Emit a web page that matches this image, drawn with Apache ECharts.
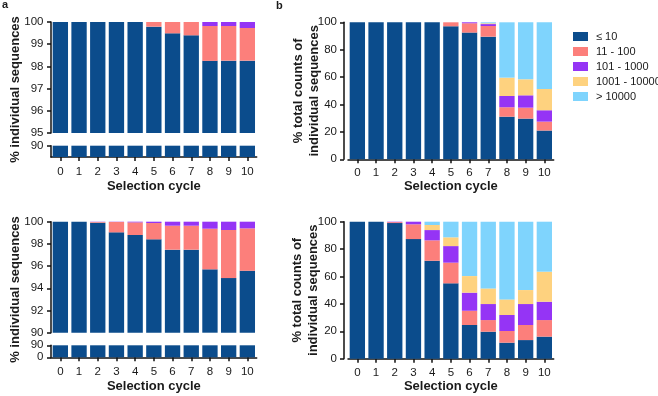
<!DOCTYPE html>
<html>
<head>
<meta charset="utf-8">
<script src="https://cdn.jsdelivr.net/npm/echarts@6/dist/echarts.min.js"></script>
<style>
  html, body { margin: 0; padding: 0; background: #ffffff; }
  #chart { width: 658px; height: 396px; }
</style>
</head>
<body>
<div id="chart"></div>
<script>
const cycles = ['0', '1', '2', '3', '4', '5', '6', '7', '8', '9', '10']
const bins = ['≤ 10', '11 - 100', '101 - 1000', '1001 - 10000', '> 10000']

// panel a, top: % individual sequences
const aTopLe10 = [100, 100, 100, 100, 100, 99.79, 99.49, 99.4, 98.25, 98.26, 98.26]
const aTop11to100 = [0, 0, 0, 0, 0, 0.21, 0.51, 0.6, 1.57, 1.56, 1.47]
const aTop101to1000 = [0, 0, 0, 0, 0, 0, 0, 0, 0.18, 0.18, 0.27]

// panel a, bottom
const aBotLe10 = [100, 100, 99.91, 99.04, 98.8, 98.41, 97.48, 97.48, 95.71, 94.92, 95.58]
const aBot11to100 = [0, 0, 0.07, 0.94, 1.14, 1.47, 2.16, 2.16, 3.66, 4.33, 3.82]
const aBot101to1000 = [0, 0, 0.02, 0.02, 0.06, 0.12, 0.36, 0.36, 0.63, 0.75, 0.6]

// panel b, top: % total counts of individual sequences
const bTopLe10 = [100, 100, 100, 100, 100, 97.1, 92.5, 89.5, 31.1, 29.7, 21.0]
const bTop11to100 = [0, 0, 0, 0, 0, 2.9, 6.8, 7.8, 6.9, 8.0, 6.5]
const bTop101to1000 = [0, 0, 0, 0, 0, 0, 0.7, 1.4, 8.2, 9.0, 8.3]
const bTop1001to10000 = [0, 0, 0, 0, 0, 0, 0, 0.6, 13.4, 11.7, 15.5]
const bTopGt10000 = [0, 0, 0, 0, 0, 0, 0, 0.7, 40.4, 41.6, 48.7]

// panel b, bottom
const bBotLe10 = [100, 100, 99.0, 87.3, 71.5, 55.0, 24.6, 19.7, 11.7, 13.6, 16.1]
const bBot11to100 = [0, 0, 0.7, 10.8, 14.9, 15.1, 10.4, 8.5, 8.5, 11.0, 12.1]
const bBot101to1000 = [0, 0, 0.3, 1.9, 7.5, 12.1, 13.2, 11.7, 11.7, 15.3, 13.4]
const bBot1001to10000 = [0, 0, 0, 0, 3.7, 6.4, 12.1, 11.4, 11.4, 10.2, 21.9]
const bBotGt10000 = [0, 0, 0, 0, 2.4, 11.4, 39.7, 48.7, 56.7, 49.9, 36.5]

const colors = ['#0b4c8c', '#fc7f7b', '#9534f5', '#fed27f', '#7fd4fd']
const font = 'Liberation Sans, Arial, Helvetica, sans-serif'
const ink = '#1a1a1a'

const chart = echarts.init(document.getElementById('chart'), null, { renderer: 'canvas' })

const axisLine = { show: true, lineStyle: { color: '#111', width: 1.5 } }
const axisTick = { show: true, length: 4, lineStyle: { color: '#111', width: 1.5 } }
const tickLabel = (margin) => ({ color: ink, fontSize: 11.5, fontFamily: font, margin })

function yAxis(gridIndex, min, max, interval, offset = 0, margin = 7.5) {
  return {
    type: 'value', gridIndex, min, max, interval, offset,
    axisLine, axisTick, axisLabel: tickLabel(margin), splitLine: { show: false },
  }
}

function xAxis(gridIndex, visible, nameGap, margin) {
  return {
    type: 'category', gridIndex, data: cycles, show: visible,
    axisLine, axisTick: { ...axisTick, alignWithLabel: true },
    axisLabel: tickLabel(margin),
    name: 'Selection cycle', nameLocation: 'middle', nameGap,
    nameTextStyle: { color: ink, fontSize: 13, fontWeight: 'bold', fontFamily: font },
  }
}

function bar(name, idx, data, stack, color) {
  return {
    type: 'bar', name, xAxisIndex: idx, yAxisIndex: idx, data, stack,
    barWidth: '82%', clip: true, itemStyle: { color }, silent: true,
  }
}

const gridW = 205.7
const grid = [
  { left: 51, top: 22, width: gridW, height: 111 },
  { left: 51, top: 145.7, width: gridW, height: 11.3 },
  { left: 51, top: 221.7, width: gridW, height: 111 },
  { left: 51, top: 345.3, width: gridW, height: 12 },
  { left: 348, top: 22.3, width: gridW, height: 137 },
  { left: 348, top: 221.7, width: gridW, height: 137 },
]

const series = [
  bar(bins[0], 0, aTopLe10, 'aTop', colors[0]),
  bar(bins[1], 0, aTop11to100, 'aTop', colors[1]),
  bar(bins[2], 0, aTop101to1000, 'aTop', colors[2]),
  bar(bins[0], 1, aTopLe10, 'aTopLow', colors[0]),
  bar(bins[0], 2, aBotLe10, 'aBot', colors[0]),
  bar(bins[1], 2, aBot11to100, 'aBot', colors[1]),
  bar(bins[2], 2, aBot101to1000, 'aBot', colors[2]),
  bar(bins[0], 3, aBotLe10, 'aBotLow', colors[0]),
]
const bTop = [bTopLe10, bTop11to100, bTop101to1000, bTop1001to10000, bTopGt10000]
const bBot = [bBotLe10, bBot11to100, bBot101to1000, bBot1001to10000, bBotGt10000]
bTop.forEach((d, i) => series.push(bar(bins[i], 4, d, 'bTop', colors[i])))
bBot.forEach((d, i) => series.push(bar(bins[i], 5, d, 'bBot', colors[i])))

const titleFont = 'bold 13px ' + font
const yTitle = (x, y, text) => ({
  type: 'text', x, y, rotation: Math.PI / 2, silent: true,
  style: { text, font: titleFont, fill: ink, align: 'center', verticalAlign: 'middle', lineHeight: 16 },
})

chart.setOption({
  animation: false,
  grid,
  xAxis: [
    xAxis(0, false, 23, 9),
    xAxis(1, true, 23, 9),
    xAxis(2, false, 23, 9),
    xAxis(3, true, 23, 9),
    xAxis(4, true, 21, 8),
    xAxis(5, true, 20, 8),
  ],
  yAxis: [
    yAxis(0, 95, 100, 1),
    yAxis(1, 0, 90, 90),
    yAxis(2, 90, 100, 2),
    yAxis(3, 0, 90, 90),
    yAxis(4, 0, 100, 20, 4, 7),
    yAxis(5, 0, 100, 20, 4, 7),
  ],
  legend: {
    data: bins, orient: 'vertical', left: 568, top: 25.5,
    icon: 'rect', itemWidth: 15, itemHeight: 9, itemGap: 3,
    selectedMode: false,
    textStyle: { color: ink, fontSize: 11, fontFamily: font, lineHeight: 12, padding: [0, 0, 0, 3] },
  },
  graphic: [
    { type: 'text', left: 2, top: -1, style: { text: 'a', font: 'bold 11px ' + font, fill: ink } },
    { type: 'text', left: 276, top: 0, style: { text: 'b', font: 'bold 11px ' + font, fill: ink } },
    yTitle(15, 89.5, '% individual sequences'),
    yTitle(15, 289.5, '% individual sequences'),
    yTitle(306, 90.8, '% total counts of\nindividual sequences'),
    yTitle(305, 290.2, '% total counts of\nindividual sequences'),
  ],
  series,
})
</script>
</body>
</html>
